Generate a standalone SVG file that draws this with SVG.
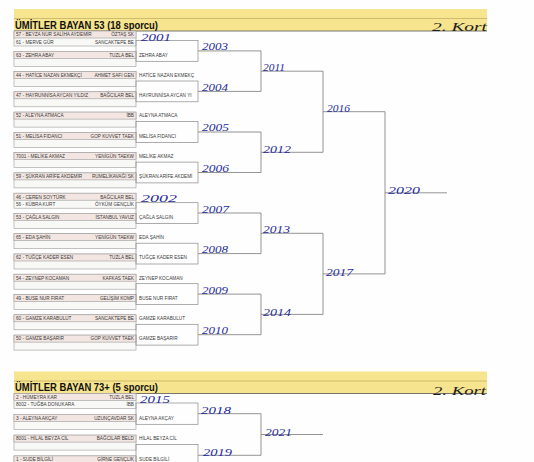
<svg xmlns="http://www.w3.org/2000/svg" width="534" height="462" viewBox="0 0 534 462">
<style>
.bg{fill:#fefefe}
.band{fill:#f7e48e}
.bandl{stroke:#b3a25a;stroke-width:.6}
.bandb{stroke:#555;stroke-width:.8}
.slot{fill:#f8f8f7;stroke:#9c9c9c;stroke-width:.6}
.hl{fill:#f3e6e2;stroke:#9c9c9c;stroke-width:.6}
.nm{font-family:"Liberation Sans",Arial,sans-serif;font-size:4.7px;fill:#3a3a3a}
.cl{text-anchor:end}
.mb{fill:none;stroke:#8a8a8a;stroke-width:.7}
.ln{fill:none;stroke:#7a7a7a;stroke-width:.8}
.hw{font-family:"Liberation Serif",serif;font-style:italic;font-size:11px;fill:#262b9c}
.ttl{font-family:"Liberation Sans",Arial,sans-serif;font-weight:bold;font-size:11px;fill:#111}
.kort{font-family:"Liberation Serif",serif;font-style:italic;font-size:13px;fill:#1e1e1e}
</style>
<rect class="bg" x="0" y="0" width="534" height="462"/>

<g id="header1">
<rect class="band" x="14" y="9" width="473" height="22"/>
<line class="bandl" x1="14" y1="18.5" x2="487" y2="18.5"/>
<line class="bandb" x1="14" y1="31" x2="487" y2="31"/>
<text class="ttl" x="15" y="28.5" textLength="143" lengthAdjust="spacingAndGlyphs">ÜMİTLER BAYAN 53 (18 sporcu)</text>
<text class="kort" x="432" y="31" textLength="55" lengthAdjust="spacingAndGlyphs">2. Kort</text>
</g>

<g id="header2">
<rect class="band" x="14" y="371.5" width="473" height="22"/>
<line class="bandl" x1="14" y1="381" x2="487" y2="381"/>
<line class="bandb" x1="14" y1="393.5" x2="487" y2="393.5"/>
<text class="ttl" x="15" y="391" textLength="143" lengthAdjust="spacingAndGlyphs">ÜMİTLER BAYAN 73+ (5 sporcu)</text>
<text class="kort" x="433" y="395" textLength="53" lengthAdjust="spacingAndGlyphs">2. Kort</text>
</g>

<g id="s0" transform="translate(0,31)"><rect class="slot" x="14" y="0" width="122" height="15"/><rect class="hl" x="14" y="0" width="122" height="7"/>
<text class="nm" x="16" y="5.4">57 - BEYZA NUR SALİHA AYDEMİR</text><text class="nm cl" x="134" y="5.4">ÖZTAŞ SK</text>
<text class="nm" x="16" y="12.6">61 - MERVE GÜR</text><text class="nm cl" x="134" y="12.6">SANCAKTEPE BE</text></g>
<g id="s1" transform="translate(0,51.3)"><rect class="slot" x="14" y="0" width="122" height="15"/><rect class="hl" x="14" y="0" width="122" height="7"/>
<text class="nm" x="16" y="5.4">63 - ZEHRA ABAY</text><text class="nm cl" x="134" y="5.4">TUZLA BEL</text><text class="nm" x="139" y="5.4">ZEHRA ABAY</text></g>
<g id="s2" transform="translate(0,71.5)"><rect class="slot" x="14" y="0" width="122" height="15"/><rect class="hl" x="14" y="0" width="122" height="7"/>
<text class="nm" x="16" y="5.4">44 - HATİCE NAZAN EKMEKÇİ</text><text class="nm cl" x="134" y="5.4">AHMET SAFI GEN</text><text class="nm" x="139" y="5.4">HATİCE NAZAN EKMEKÇ</text></g>
<g id="s3" transform="translate(0,91.8)"><rect class="slot" x="14" y="0" width="122" height="15"/><rect class="hl" x="14" y="0" width="122" height="7"/>
<text class="nm" x="16" y="5.4">47 - HAYRUNNİSA AYCAN YILDIZ</text><text class="nm cl" x="134" y="5.4">BAĞCILAR BEL</text><text class="nm" x="139" y="5.4">HAYRUNNİSA AYCAN YI</text></g>
<g id="s4" transform="translate(0,112.1)"><rect class="slot" x="14" y="0" width="122" height="15"/><rect class="hl" x="14" y="0" width="122" height="7"/>
<text class="nm" x="16" y="5.4">52 - ALEYNA ATMACA</text><text class="nm cl" x="134" y="5.4">İBB</text><text class="nm" x="139" y="5.4">ALEYNA ATMACA</text></g>
<g id="s5" transform="translate(0,132.4)"><rect class="slot" x="14" y="0" width="122" height="15"/><rect class="hl" x="14" y="0" width="122" height="7"/>
<text class="nm" x="16" y="5.4">51 - MELİSA FIDANCI</text><text class="nm cl" x="134" y="5.4">GOP KUVVET TAEK</text><text class="nm" x="139" y="5.4">MELİSA FIDANCI</text></g>
<g id="s6" transform="translate(0,152.6)"><rect class="slot" x="14" y="0" width="122" height="15"/><rect class="hl" x="14" y="0" width="122" height="7"/>
<text class="nm" x="16" y="5.4">7001 - MELİKE AKMAZ</text><text class="nm cl" x="134" y="5.4">YENİGÜN TAEKW</text><text class="nm" x="139" y="5.4">MELİKE AKMAZ</text></g>
<g id="s7" transform="translate(0,172.9)"><rect class="slot" x="14" y="0" width="122" height="15"/><rect class="hl" x="14" y="0" width="122" height="7"/>
<text class="nm" x="16" y="5.4">59 - ŞÜKRAN ARİFE AKDEMİR</text><text class="nm cl" x="134" y="5.4">RUMELİKAVAĞI SK</text><text class="nm" x="139" y="5.4">ŞÜKRAN ARİFE AKDEMİ</text></g>
<g id="s8" transform="translate(0,193.2)"><rect class="slot" x="14" y="0" width="122" height="15"/><rect class="hl" x="14" y="0" width="122" height="7"/>
<text class="nm" x="16" y="5.4">46 - CEREN SOYTÜRK</text><text class="nm cl" x="134" y="5.4">BAĞCILAR BEL</text>
<text class="nm" x="16" y="12.6">56 - KÜBRA KURT</text><text class="nm cl" x="134" y="12.6">ÖYKÜM GENÇLİK</text></g>
<g id="s9" transform="translate(0,213.4)"><rect class="slot" x="14" y="0" width="122" height="15"/><rect class="hl" x="14" y="0" width="122" height="7"/>
<text class="nm" x="16" y="5.4">53 - ÇAĞLA SALGIN</text><text class="nm cl" x="134" y="5.4">İSTANBUL YAVUZ</text><text class="nm" x="139" y="5.4">ÇAĞLA SALGIN</text></g>
<g id="s10" transform="translate(0,233.7)"><rect class="slot" x="14" y="0" width="122" height="15"/><rect class="hl" x="14" y="0" width="122" height="7"/>
<text class="nm" x="16" y="5.4">65 - EDA ŞAHİN</text><text class="nm cl" x="134" y="5.4">YENİGÜN TAEKW</text><text class="nm" x="139" y="5.4">EDA ŞAHİN</text></g>
<g id="s11" transform="translate(0,254)"><rect class="slot" x="14" y="0" width="122" height="15"/><rect class="hl" x="14" y="0" width="122" height="7"/>
<text class="nm" x="16" y="5.4">62 - TUĞÇE KADER ESEN</text><text class="nm cl" x="134" y="5.4">TUZLA BEL</text><text class="nm" x="139" y="5.4">TUĞÇE KADER ESEN</text></g>
<g id="s12" transform="translate(0,274.2)"><rect class="slot" x="14" y="0" width="122" height="15"/><rect class="hl" x="14" y="0" width="122" height="7"/>
<text class="nm" x="16" y="5.4">54 - ZEYNEP KOCAMAN</text><text class="nm cl" x="134" y="5.4">KAFKAS TAEK</text><text class="nm" x="139" y="5.4">ZEYNEP KOCAMAN</text></g>
<g id="s13" transform="translate(0,294.5)"><rect class="slot" x="14" y="0" width="122" height="15"/><rect class="hl" x="14" y="0" width="122" height="7"/>
<text class="nm" x="16" y="5.4">49 - BUSE NUR FIRAT</text><text class="nm cl" x="134" y="5.4">GELİŞİM KOMP</text><text class="nm" x="139" y="5.4">BUSE NUR FIRAT</text></g>
<g id="s14" transform="translate(0,314.8)"><rect class="slot" x="14" y="0" width="122" height="15"/><rect class="hl" x="14" y="0" width="122" height="7"/>
<text class="nm" x="16" y="5.4">60 - GAMZE KARABULUT</text><text class="nm cl" x="134" y="5.4">SANCAKTEPE BE</text><text class="nm" x="139" y="5.4">GAMZE KARABULUT</text></g>
<g id="s15" transform="translate(0,335.1)"><rect class="slot" x="14" y="0" width="122" height="15"/><rect class="hl" x="14" y="0" width="122" height="7"/>
<text class="nm" x="16" y="5.4">50 - GAMZE BAŞARIR</text><text class="nm cl" x="134" y="5.4">GOP KUVVET TAEK</text><text class="nm" x="139" y="5.4">GAMZE BAŞARIR</text></g>

<g id="t0" transform="translate(0,393.5)"><rect class="slot" x="14" y="0" width="122" height="15"/><rect class="hl" x="14" y="0" width="122" height="7"/>
<text class="nm" x="16" y="5.4">2 - HÜMEYRA KAR</text><text class="nm cl" x="134" y="5.4">TUZLA BEL</text>
<text class="nm" x="16" y="12.6">8002 - TUĞBA DONUKARA</text><text class="nm cl" x="134" y="12.6">İBB</text></g>
<g id="t1" transform="translate(0,414.3)"><rect class="slot" x="14" y="0" width="122" height="15"/><rect class="hl" x="14" y="0" width="122" height="7"/>
<text class="nm" x="16" y="5.4">3 - ALEYNA AKÇAY</text><text class="nm cl" x="134" y="5.4">UZUNÇAVDAR SK</text><text class="nm" x="139" y="5.4">ALEYNA AKÇAY</text></g>
<g id="t2" transform="translate(0,435.1)"><rect class="slot" x="14" y="0" width="122" height="15"/><rect class="hl" x="14" y="0" width="122" height="7"/>
<text class="nm" x="16" y="5.4">8001 - HİLAL BEYZA CİL</text><text class="nm cl" x="134" y="5.4">BAĞCILAR BELD</text><text class="nm" x="139" y="5.4">HİLAL BEYZA CİL</text></g>
<g id="t3" transform="translate(0,455.9)"><rect class="slot" x="14" y="0" width="122" height="15"/><rect class="hl" x="14" y="0" width="122" height="7"/>
<text class="nm" x="16" y="5.4">1 - SUDE BİLGİLİ</text><text class="nm cl" x="134" y="5.4">GİRNE GENÇLİK</text><text class="nm" x="139" y="5.4">SUDE BİLGİLİ</text></g>

<g id="matches">
<rect id="m2003" class="mb" x="136" y="40.5" width="62" height="20.8"/>
<rect id="m2004" class="mb" x="136" y="81" width="62" height="20.8"/>
<rect id="m2005" class="mb" x="136" y="121.6" width="62" height="20.8"/>
<rect id="m2006" class="mb" x="136" y="162.1" width="62" height="20.8"/>
<rect id="m2007" class="mb" x="136" y="202.7" width="62" height="20.7"/>
<rect id="m2008" class="mb" x="136" y="243.2" width="62" height="20.8"/>
<rect id="m2009" class="mb" x="136" y="283.7" width="62" height="20.8"/>
<rect id="m2010" class="mb" x="136" y="324.3" width="62" height="20.8"/>
<rect id="m2018" class="mb" x="136" y="403" width="62" height="21.3"/>
<rect id="m2019" class="mb" x="136" y="444.6" width="62" height="21.3"/>
</g>

<g id="connectors" class="ln">
<path d="M198 50.9H261V91.4H198M261 71.2H323"/>
<path d="M198 132H261V172.5H198M261 152.3H323"/>
<path d="M198 213H261V253.6H198M261 233.3H323"/>
<path d="M198 294.1H261V334.7H198M261 314.4H323"/>
<path d="M323 71.2V152.3M323 111.7H385"/>
<path d="M323 233.3V314.4M323 273.9H385"/>
<path d="M385 111.7V273.9M385 192.8H447"/>
<path d="M198 413.7H261V455.3H198M261 434.5H323"/>
</g>

<g id="labels" class="hw">
<text x="141" y="40.5" textLength="30" lengthAdjust="spacingAndGlyphs">2001</text>
<text x="202" y="50" textLength="26" lengthAdjust="spacingAndGlyphs">2003</text>
<text x="202" y="91" textLength="26" lengthAdjust="spacingAndGlyphs">2004</text>
<text x="202" y="131" textLength="27" lengthAdjust="spacingAndGlyphs">2005</text>
<text x="202" y="172" textLength="27" lengthAdjust="spacingAndGlyphs">2006</text>
<text x="141" y="201.5" textLength="36" lengthAdjust="spacingAndGlyphs">2002</text>
<text x="202" y="213" textLength="27" lengthAdjust="spacingAndGlyphs">2007</text>
<text x="202" y="253" textLength="26" lengthAdjust="spacingAndGlyphs">2008</text>
<text x="202" y="294" textLength="26" lengthAdjust="spacingAndGlyphs">2009</text>
<text x="202" y="334" textLength="26" lengthAdjust="spacingAndGlyphs">2010</text>
<text x="263" y="71" textLength="22" lengthAdjust="spacingAndGlyphs">2011</text>
<text x="263" y="153" textLength="28" lengthAdjust="spacingAndGlyphs">2012</text>
<text x="263" y="233" textLength="27" lengthAdjust="spacingAndGlyphs">2013</text>
<text x="263" y="316" textLength="28" lengthAdjust="spacingAndGlyphs">2014</text>
<text x="327" y="112" textLength="23" lengthAdjust="spacingAndGlyphs">2016</text>
<text x="326" y="276" textLength="27" lengthAdjust="spacingAndGlyphs">2017</text>
<text x="388" y="194" textLength="32" lengthAdjust="spacingAndGlyphs">2020</text>
<text x="140" y="403" textLength="30" lengthAdjust="spacingAndGlyphs">2015</text>
<text x="201" y="414" textLength="30" lengthAdjust="spacingAndGlyphs">2018</text>
<text x="203" y="456" textLength="29" lengthAdjust="spacingAndGlyphs">2019</text>
<text x="265" y="436" textLength="27" lengthAdjust="spacingAndGlyphs">2021</text>
</g>
</svg>
